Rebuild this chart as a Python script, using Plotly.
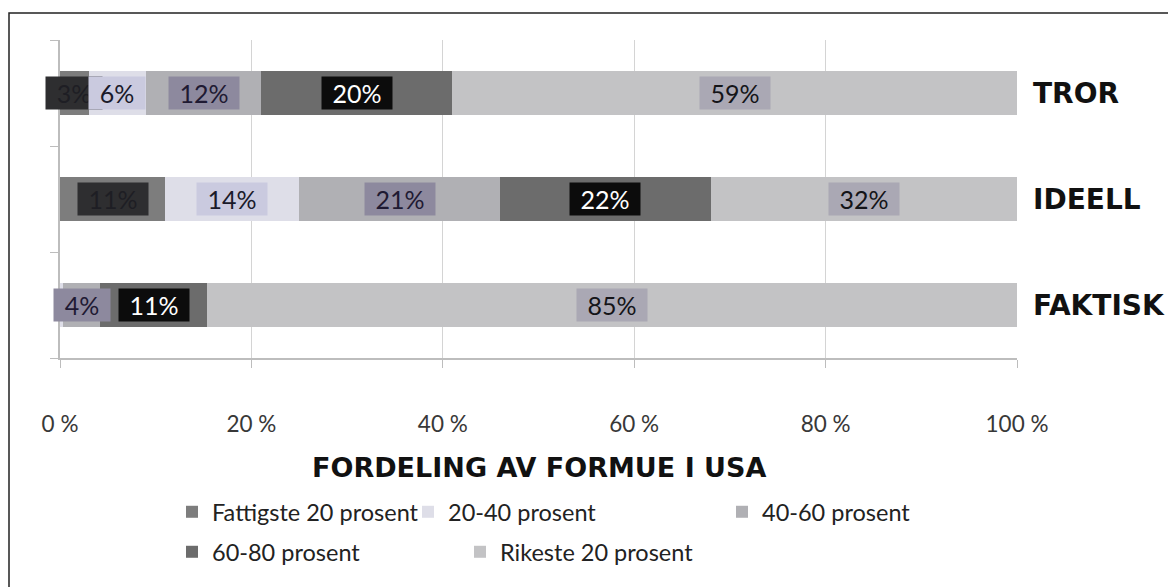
import plotly.graph_objects as go

categories = ["FAKTISK", "IDEELL", "TROR"]
series_names = ["Fattigste 20 prosent", "20-40 prosent", "40-60 prosent",
                "60-80 prosent", "Rikeste 20 prosent"]
fattigste = [0.1, 11, 3]
p20_40 = [0.2, 14, 6]
p40_60 = [3.9, 21, 12]
p60_80 = [11.2, 22, 20]
rikeste = [84.6, 32, 59]
x_ticks = [0, 20, 40, 60, 80, 100]
x_tick_labels = ["0 %", "20 %", "40 %", "60 %", "80 %", "100 %"]
axis_title = "FORDELING AV FORMUE I USA"

series_values = [fattigste, p20_40, p40_60, p60_80, rikeste]
bar_colors = ["#7d7d7d", "#dedee8", "#b0b0b4", "#6c6c6c", "#c3c3c5"]
box_colors = ["#2e2e30", "#cacadf", "#8d899e", "#0c0c0c", "#aaa8b4"]
box_text_colors = ["#1e1e24", "#1a1a2a", "#1f1a33", "#ffffff", "#141418"]

OFF = 8  # page body margin
W, H = 1176 - OFF, 587 - OFF
L, R, T, B = 60 - OFF, 1017 - OFF, 40 - OFF, 358 - OFF


def px_x(sx):
    return (sx - OFF - L) / (R - L)


def px_y(sy):
    return (B - (sy - OFF)) / (B - T)


fig = go.Figure()
legend_pos = [(212, 512), (448, 512), (762, 512), (212, 552), (500, 552)]
for i, (name, vals) in enumerate(zip(series_names, series_values)):
    lg = "legend" if i == 0 else f"legend{i+1}"
    fig.add_trace(go.Bar(
        y=categories, x=vals, name=name, orientation="h",
        marker=dict(color=bar_colors[i], line=dict(width=0)),
        legend=lg, hoverinfo="x+name",
    ))

# label boxes
annotations = []
cum = [0.0] * len(categories)
for i, vals in enumerate(series_values):
    for j, v in enumerate(vals):
        center = cum[j] + v / 2
        cum[j] += v
        if v < 1:
            continue
        txt = f"{round(v)}%"
        annotations.append(dict(
            x=center, y=categories[j], xref="x", yref="y", text=txt,
            showarrow=False, bgcolor=box_colors[i],
            font=dict(family="Lato", size=25, color=box_text_colors[i]),
            width=14 * len(txt) + 28, height=32, borderpad=0,
        ))

for c in categories:
    annotations.append(dict(
        x=px_x(1031), y=c, xref="paper", yref="y", text=c,
        xanchor="left", showarrow=False,
        font=dict(family="DejaVu Sans", size=28, color="#111111", weight="bold"),
    ))

annotations.append(dict(
    x=0.5, y=px_y(467), xref="paper", yref="paper", text=axis_title,
    showarrow=False, xanchor="center", yanchor="middle",
    font=dict(family="DejaVu Sans", size=27, color="#111111", weight="bold"),
))

layouts = {}
for i, (tx, ty) in enumerate(legend_pos):
    key = "legend" if i == 0 else f"legend{i+1}"
    layouts[key] = dict(
        x=(tx - OFF - 40) / W, y=1 - (ty - OFF) / H,
        xref="container", yref="container",
        xanchor="left", yanchor="middle", orientation="h",
        font=dict(family="Lato", size=23.5, color="#222222"),
        bgcolor="rgba(0,0,0,0)", itemwidth=30,
    )

fig.update_layout(
    width=W, height=H,
    margin=dict(l=L, r=W - R, t=T, b=H - B, autoexpand=False),
    paper_bgcolor="white", plot_bgcolor="white",
    barmode="stack", bargap=0.59,
    showlegend=True,
    annotations=annotations,
    shapes=[dict(type="rect", xref="paper", yref="paper",
                 x0=px_x(9), x1=px_x(1171),
                 y0=px_y(640), y1=px_y(13),
                 line=dict(color="#222222", width=1.5), layer="below")],
    xaxis=dict(
        range=[0, 100], tickvals=x_ticks, ticktext=x_tick_labels,
        showgrid=True, gridcolor="#d4d4d4", gridwidth=1,
        showline=True, linecolor="#bdbdbd", linewidth=1.5,
        ticks="outside", ticklen=8, tickcolor="#bdbdbd",
        tickfont=dict(family="Lato", size=22.5, color="#383838"),
        ticklabelstandoff=37, zeroline=False, automargin=False,
    ),
    yaxis=dict(
        type="category", categoryorder="array", categoryarray=categories,
        range=[-0.5, 2.5], showticklabels=False, showgrid=False,
        showline=True, linecolor="#bdbdbd", linewidth=1.5,
        ticks="outside", ticklen=8, tickcolor="#bdbdbd", tickson="boundaries",
        automargin=False,
    ),
    **layouts,
)

fig.write_html("out.html")
